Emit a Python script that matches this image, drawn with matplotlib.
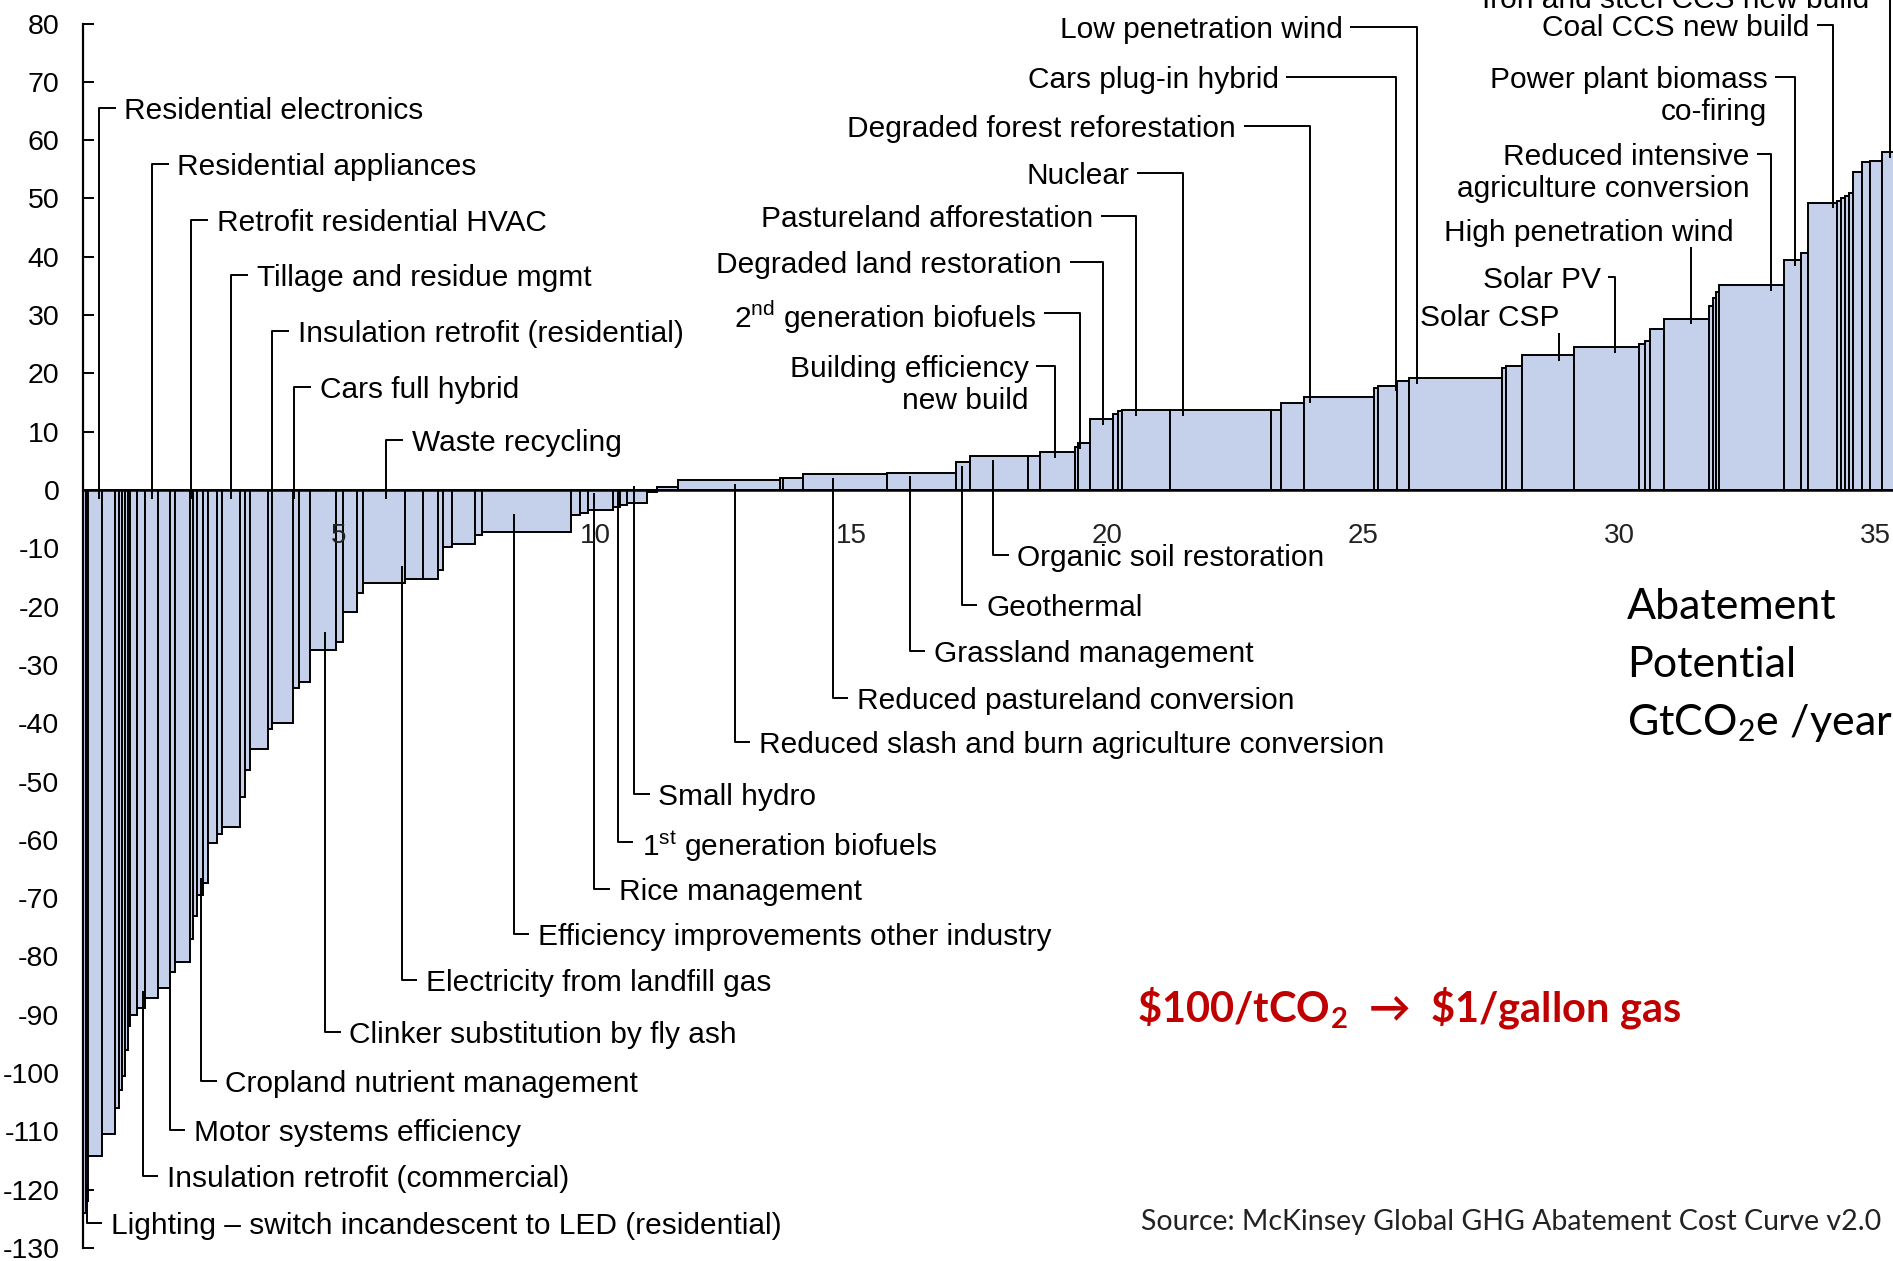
import matplotlib
matplotlib.use("Agg")
import matplotlib.pyplot as plt
import numpy as np

plt.rcParams['font.family'] = ['Liberation Sans', 'DejaVu Sans']
plt.rcParams['mathtext.fontset'] = 'custom'
plt.rcParams['mathtext.rm'] = 'Liberation Sans'
plt.rcParams['mathtext.sf'] = 'Lato'
plt.rcParams['mathtext.bf'] = 'Lato:bold'
plt.rcParams['axes.unicode_minus'] = False

# abatement potential (GtCO2e/year) and cost (EUR/tCO2e) for each lever, left to right
widths = [0.05, 0.05, 0.27, 0.26, 0.07, 0.06, 0.06, 0.05, 0.05, 0.13,
          0.16, 0.26, 0.23, 0.10, 0.29, 0.06, 0.07, 0.13, 0.10, 0.16,
          0.10, 0.36, 0.09, 0.10, 0.36, 0.07, 0.42, 0.10, 0.22, 0.52,
          0.13, 0.27, 0.12, 0.82, 0.36, 0.29, 0.10, 0.16, 0.46, 0.13,
          1.75, 0.17, 0.16, 0.49, 0.13, 0.13, 0.39, 0.20, 0.42, 1.98,
          0.07, 0.39, 1.63, 1.36, 0.26, 1.14, 0.23, 0.69, 0.06, 0.23,
          0.45, 0.10, 0.07, 0.94, 1.98, 0.19, 0.45, 1.37, 0.08, 0.36,
          0.24, 1.82, 0.08, 0.30, 1.03, 1.27, 0.10, 0.10, 0.28, 0.88,
          0.07, 0.07, 0.06, 1.26, 0.34, 0.14, 0.56, 0.08, 0.08, 0.08,
          0.07, 0.17, 0.16, 0.23, 0.47]
costs = [-124, -122, -114.3, -110.4, -106, -103, -100.5, -96, -92, -90,
         -88.9, -87.2, -85.4, -82.7, -81, -77, -73, -69.5, -67.4, -60.6,
         -59, -57.8, -52.6, -48, -44.4, -41, -40, -34, -32.9, -27.4,
         -26, -20.9, -17.7, -16, -15.2, -15.2, -13.7, -9.7, -9.2, -7.7,
         -7.2, -4.3, -3.9, -3.5, -3.0, -2.6, -2.3, -0.4, 0.5, 1.7,
         2.1, 2.1, 2.7, 3.0, 4.8, 5.8, 5.8, 6.5, 7.4, 8.0,
         12.1, 13.0, 13.5, 13.7, 13.7, 13.7, 15.0, 15.9, 17.5, 17.9,
         18.7, 19.2, 20.9, 21.2, 23.2, 24.5, 25.0, 25.5, 27.7, 29.4,
         31.5, 33.0, 34.0, 35.2, 39.4, 40.6, 49.3, 49.6, 50.0, 50.5,
         51.0, 54.6, 56.3, 56.5, 58.0]

yticks = list(range(-130, 81, 10))
xticks = [5, 10, 15, 20, 25, 30, 35]

# labels above the axis for negative-cost levers: (text, lever x, label y)
top_left = [("Residential electronics", 0.31, 65.5),
            ("Residential appliances", 1.34, 55.9),
            ("Retrofit residential HVAC", 2.11, 46.3),
            ("Tillage and residue mgmt", 2.90, 36.9),
            ("Insulation retrofit (residential)", 3.70, 27.2),
            ("Cars full hybrid", 4.13, 17.6),
            ("Waste recycling", 5.92, 8.6)]

# labels below the curve: (text, lever x, label y)
bottom = [("Lighting \u2013 switch incandescent to LED (residential)", 0.08, -125.7),
          ("Insulation retrofit (commercial)", 1.17, -117.6),
          ("Motor systems efficiency", 1.69, -109.7),
          ("Cropland nutrient management", 2.31, -101.3),
          ("Clinker substitution by fly ash", 4.73, -93.0),
          ("Electricity from landfill gas", 6.23, -84.0),
          ("Efficiency improvements other industry", 8.41, -76.1),
          ("Rice management", 9.99, -68.4),
          ("1$^{\\mathrm{st}}$ generation biofuels", 10.45, -60.4),
          ("Small hydro", 10.77, -52.1),
          ("Reduced slash and burn agriculture conversion", 12.73, -43.2),
          ("Reduced pastureland conversion", 14.64, -35.7),
          ("Grassland management", 16.15, -27.6),
          ("Geothermal", 17.17, -19.7),
          ("Organic soil restoration", 17.78, -11.2)]

# right-aligned labels above positive-cost levers: (text, lever x, label y, text right edge)
top_right = [("Building efficiency\nnew build", 18.98, 21.2, 18.47),
             ("2$^{\\mathrm{nd}}$ generation biofuels", 19.47, 30.3, 18.62),
             ("Degraded land restoration", 19.93, 39.1, 19.12),
             ("Pastureland afforestation", 20.56, 47.0, 19.73),
             ("Nuclear", 21.49, 54.4, 20.43),
             ("Degraded forest reforestation", 23.97, 62.4, 22.52),
             ("Cars plug-in hybrid", 25.65, 70.9, 23.35),
             ("Low penetration wind", 26.05, 79.5, 24.60),
             ("Iron and steel CCS new build", 35.30, 84.6, 34.88),
             ("Coal CCS new build", 34.17, 79.8, 33.72),
             ("Power plant biomass\nco-firing", 33.43, 70.9, 32.90),
             ("Reduced intensive\nagriculture conversion", 32.96, 57.7, 32.55),
             ("Solar PV", 29.92, 36.6, 29.64)]

# labels sitting directly above their lever line: (text, lever x, label y, text right edge)
top_plain = [("High penetration wind", 31.40, 44.6, 32.23),
             ("Solar CSP", 28.82, 30.0, 28.84)]

fill = '#C5D0EB'
lw = 1.4
fs = 21.5

lefts = np.concatenate([[0], np.cumsum(widths)[:-1]])
rights = np.cumsum(widths)


def cost_at(x):
    i = int(np.searchsorted(rights, x, side='right'))
    return costs[min(i, len(costs) - 1)]


fig = plt.figure(figsize=(18.93, 12.61), dpi=100)
ax = fig.add_axes([83 / 1893, 0, 1 - 83 / 1893, 1])
ax.set_xlim(0, (1893 - 83) / 51.2)
ax.set_ylim((490 - 1261) / 5.83, 490 / 5.83)

ax.bar(lefts, costs, width=widths, align='edge', color=fill,
       edgecolor='black', linewidth=lw, zorder=2)
ax.axhline(0, color='black', lw=1.8, zorder=3)

for s in ['top', 'right', 'bottom']:
    ax.spines[s].set_visible(False)
ax.spines['left'].set_bounds(-130, 80)
ax.spines['left'].set_linewidth(1.6)
ax.set_yticks(yticks)
ax.set_yticklabels([str(t) for t in yticks])
ax.tick_params(axis='y', direction='in', length=8, width=1.4, pad=17,
               labelsize=20.5)
ax.set_xticks([])
for t in xticks:
    ax.text(t, -7.9, str(t), ha='center', va='center', fontsize=20,
            color='#222222', zorder=5)

kw = dict(color='black', lw=lw, zorder=4, solid_capstyle='butt')

for text, x, y in top_left:
    ax.plot([x, x, x + 0.33], [-1.5, y, y], **kw)
    ax.text(x + 0.5, y, text, ha='left', va='center_baseline', fontsize=fs, zorder=5)

for text, x, y in bottom:
    c = cost_at(x)
    start = c + 3 if c < 0 else c - 0.6
    ax.plot([x, x, x + 0.3], [start, y, y], **kw)
    ax.text(x + 0.47, y, text, ha='left', va='center_baseline', fontsize=fs, zorder=5)

for text, x, y, tx in top_right:
    end = cost_at(x) - 1
    ax.plot([tx + 0.15, x, x], [y, y, end], clip_on=True, **kw)
    for k, line in enumerate(text.split('\n')):
        ax.text(tx, y - 5.5 * k, line, ha='right', va='center_baseline',
                fontsize=fs, zorder=5)

for text, x, y, tx in top_plain:
    ax.plot([x, x], [y - 3, cost_at(x) - 1], **kw)
    ax.text(tx, y, text, ha='right', va='center_baseline', fontsize=fs, zorder=5)

side = ['Lato', 'DejaVu Sans']
fig.text(1627 / 1893, 0.5186, "Abatement", family=side, fontsize=31, va='center')
fig.text(1627 / 1893, 0.4727, "Potential", family=side, fontsize=31, va='center')
fig.text(1627 / 1893, 0.4266, "GtCO$_\\mathsf{2}$e /year", family=side,
         fontsize=31, va='center')
fig.text(1137 / 1893, 0.2006, "\\$100/tCO$_\\mathbf{2}$  \u2192  \\$1/gallon gas",
         family=side, fontsize=30, fontweight='bold', color='#C00000', va='center')
fig.text(1141 / 1893, 0.0309, "Source: McKinsey Global GHG Abatement Cost Curve v2.0",
         family=side, fontsize=20.5, color='#222222', va='center')

fig.savefig('out.png', dpi=100)
